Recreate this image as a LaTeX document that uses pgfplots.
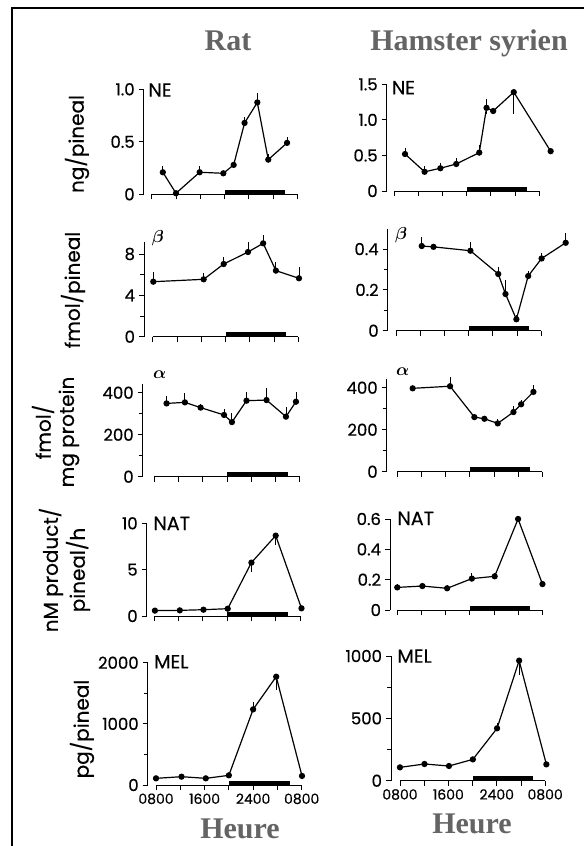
\documentclass[border=0pt]{standalone}
\usepackage{pgfplots}
\pgfplotsset{compat=1.18}
\usepackage{amsmath}
\usepackage{fontspec}
\setmainfont{Liberation Serif}
\newfontfamily\pop{Poppins}[FakeBold=0.4]
\definecolor{titlegray}{RGB}{100,100,100}
\newcommand\tickf{\pop\fontsize{16.5}{16.5}\selectfont}
\newcommand\xtickf{\pop\fontsize{14}{14}\selectfont}
\newcommand\labf{\pop\fontsize{19}{19}\selectfont}
\newcommand\ylf{\pop\fontsize{20}{20}\selectfont}
\newcommand\titf{\bfseries\fontsize{30}{30}\selectfont}
\pgfplotsset{
  panel/.style={
    anchor=south west,
    axis x line*=bottom, axis y line*=left,
    x axis line style={draw=none},
    y axis line style={line width=0.9pt},
    xmax=24, ymin=0,
    xtick={0,4,8,12,16,20,24}, xticklabels={},
    tick align=outside,
    major tick length=5pt, minor tick length=4pt,
    every tick/.style={black, line width=0.9pt},
    yticklabel style={font=\tickf, xshift=-0.5pt},
    xticklabel style={font=\xtickf},
    scaled y ticks=false,
    clip=false,
    cycle list={{black, mark=*}},
    every axis plot post/.append style={black, line width=1.2pt, mark=*, mark size=2.5pt, mark options={solid, fill=black}},
    error bars/y dir=both, error bars/y explicit, error bars/error mark=none,
    error bars/error bar style={black, line width=0.9pt},
  },
  ratcol/.style={panel, x=6.07pt},
  hamcol/.style={panel, x=6.05pt},
}
\newcommand\baseaxis{\draw[line width=0.9pt] (axis cs:0,0) -- (axis cs:24,0);
  \fill (axis cs:12,0) rectangle ([yshift=4.5pt]axis cs:22,0);}
\begin{document}
\begin{tikzpicture}
\path[use as bounding box] (0,0) rectangle (584pt,-846pt);
\draw[line width=2pt] (12pt,-846pt) -- (12pt,-8pt) -- (584pt,-8pt);
% titles
\node[font=\titf, text=titlegray, anchor=base] at (228pt,-50pt) {Rat};
\node[font=\titf, text=titlegray, anchor=base] at (469pt,-50pt) {Hamster syrien};
\node[font=\titf, text=titlegray, anchor=base] at (240pt,-838pt) {Heure};
\node[font=\titf, text=titlegray, anchor=base] at (472pt,-833pt) {Heure};
% y labels
\node[font=\ylf, rotate=90] at (77pt,-144pt) {ng/pineal};
\node[font=\ylf, rotate=90] at (73pt,-290pt) {fmol/pineal};
\node[font=\ylf, rotate=90] at (43pt,-432pt) {fmol/};
\node[font=\ylf, rotate=90] at (69pt,-432pt) {mg protein};
\node[font=\ylf, rotate=90] at (51pt,-570pt) {nM product/};
\node[font=\ylf, rotate=90] at (78pt,-570pt) {pineal/h};
\node[font=\ylf, rotate=90] at (82pt,-729pt) {pg/pineal};
% panel labels
\node[font=\labf, anchor=base west, inner sep=0pt] at (148.3pt,-96.7pt) {NE};
\node[font=\labf, anchor=base west, inner sep=0pt] at (391.7pt,-94.3pt) {NE};
\node[font=\fontsize{18}{18}\selectfont, anchor=base west, inner sep=0pt] at (151.7pt,-242pt) {$\boldsymbol{\beta}$};
\node[font=\fontsize{18}{18}\selectfont, anchor=base west, inner sep=0pt] at (395pt,-239pt) {$\boldsymbol{\beta}$};
\node[font=\fontsize{17}{17}\selectfont, anchor=base west, inner sep=0pt] at (153pt,-378.3pt) {$\boldsymbol{\alpha}$};
\node[font=\fontsize{17}{17}\selectfont, anchor=base west, inner sep=0pt] at (396pt,-375pt) {$\boldsymbol{\alpha}$};
\node[font=\labf, anchor=base west, inner sep=0pt] at (153.3pt,-530pt) {NAT};
\node[font=\labf, anchor=base west, inner sep=0pt] at (397.3pt,-525pt) {NAT};
\node[font=\labf, anchor=base west, inner sep=0pt] at (154pt,-668.3pt) {MEL};
\node[font=\labf, anchor=base west, inner sep=0pt] at (397.3pt,-662.7pt) {MEL};

% ---------- Rat NE
\begin{axis}[ratcol, at={(143.7pt,-194.3pt)}, y=105pt, xmin=-1.32, ymax=1.0,
  ytick={0,0.5,1}, yticklabels={0,0.5,1.0}]
\baseaxis
\addplot coordinates {(1.83,0.21) += (0,0.06) -= (0,0) (4.0,0.01) += (0,0) -= (0,0)
 (7.9,0.21) += (0,0.06) -= (0,0) (11.8,0.20) += (0,0) -= (0,0) (13.5,0.28) += (0,0.03) -= (0,0)
 (15.3,0.68) += (0,0.06) -= (0,0) (17.4,0.875) += (0,0.09) -= (0,0) (19.2,0.33) += (0,0.05) -= (0,0)
 (22.3,0.49) += (0,0.06) -= (0,0)};
\end{axis}
% ---------- Hamster NE
\begin{axis}[hamcol, at={(386.7pt,-191pt)}, y=71.1pt, xmin=-1.2, ymax=1.5,
  ytick={0,0.5,1,1.5}, yticklabels={0,0.5,1.0,1.5}]
\baseaxis
\addplot coordinates {(1.83,0.52) += (0,0.09) -= (0,0) (5.06,0.27) += (0,0.08) -= (0,0)
 (7.67,0.32) += (0,0.07) -= (0,0) (10.3,0.38) += (0,0.09) -= (0,0) (14.1,0.54) += (0,0.10) -= (0,0)
 (15.3,1.17) += (0,0.13) -= (0,0.08) (16.4,1.125) += (0,0.04) -= (0,0) (19.8,1.39) += (0,0) -= (0,0.30)
 (25.9,0.56) += (0,0) -= (0,0)};
\end{axis}
% ---------- Rat beta
\begin{axis}[ratcol, at={(144pt,-336.7pt)}, y=10.34pt, xmin=-1.43, ymax=9.2,
  ytick={0,4,8}, yticklabels={0,4,8}, minor ytick={2,6}]
\baseaxis
\addplot coordinates {(0.1,5.32) += (0,0.9) -= (0,0) (8.4,5.55) += (0,0.6) -= (0,0)
 (11.7,7.03) += (0,0.7) -= (0,0) (15.7,8.19) += (0,1.0) -= (0,0) (18.2,9.03) += (0,0.8) -= (0,0)
 (20.3,6.39) += (0,0.8) -= (0,0) (24.1,5.65) += (0,1.06) -= (0,0)};
\end{axis}
% ---------- Hamster beta
\begin{axis}[hamcol, at={(387.7pt,-330.7pt)}, y=204pt, xmin=-1.37, ymax=0.5,
  ytick={0,0.2,0.4}, yticklabels={0,0.2,0.4}, minor ytick={0.1,0.3}]
\baseaxis
\addplot coordinates {(4.26,0.415) += (0,0.046) -= (0,0) (6.2,0.411) += (0,0) -= (0,0)
 (12.3,0.392) += (0,0.044) -= (0,0) (16.9,0.278) += (0,0.033) -= (0,0) (18.1,0.18) += (0,0.07) -= (0,0)
 (19.9,0.056) += (0,0.02) -= (0,0) (21.85,0.268) += (0,0.026) -= (0,0) (24.07,0.354) += (0,0.028) -= (0,0)
 (28.05,0.431) += (0,0.049) -= (0,0)};
\end{axis}
% ---------- Rat alpha
\begin{axis}[ratcol, at={(142.7pt,-476.7pt)}, y=0.21pt, xmin=-1.9, ymax=440,
  ytick={0,200,400}, yticklabels={0,200,400}, minor ytick={100,300}]
\baseaxis
\addplot coordinates {(2.03,349) += (0,35) -= (0,0) (5.05,354) += (0,46) -= (0,0)
 (7.64,329) += (0,16) -= (0,0) (11.5,294) += (0,27) -= (0,0) (12.8,260) += (0,41) -= (0,0)
 (15.2,362) += (0,43) -= (0,0) (18.5,365) += (0,56) -= (0,0) (21.7,286) += (0,48) -= (0,0)
 (23.35,357) += (0,48) -= (0,0)};
\end{axis}
% ---------- Hamster alpha
\begin{axis}[hamcol, at={(386.7pt,-471.7pt)}, y=0.21pt, xmin=-1.75, ymax=440,
  ytick={0,200,400}, yticklabels={0,200,400}, minor ytick={100,300}]
\baseaxis
\addplot coordinates {(2.54,397) += (0,0) -= (0,0) (8.72,407) += (0,45) -= (0,0)
 (12.74,260) += (0,0) -= (0,0) (14.4,252) += (0,0) -= (0,0) (16.6,230) += (0,20) -= (0,0)
 (19.2,284) += (0,27) -= (0,0) (20.47,321) += (0,22) -= (0,0) (22.5,380) += (0,32) -= (0,0)};
\end{axis}
% ---------- Rat NAT
\begin{axis}[ratcol, at={(146.7pt,-616pt)}, y=9.27pt, xmin=-1.25, ymax=10,
  ytick={0,5,10}, yticklabels={0,5,10}]
\baseaxis
\addplot coordinates {(0.1,0.58) += (0,0) -= (0,0) (4.2,0.61) += (0,0) -= (0,0)
 (8.1,0.68) += (0,0) -= (0,0) (12.1,0.79) += (0,0) -= (0,0) (16.0,5.76) += (0,0) -= (0,1.0)
 (20.0,8.67) += (0,0) -= (0,1.0) (24.25,0.83) += (0,0) -= (0,0)};
\end{axis}
% ---------- Hamster NAT
\begin{axis}[hamcol, at={(390pt,-610pt)}, y=151.7pt, xmin=-1.2, ymax=0.6,
  ytick={0,0.2,0.4,0.6}, yticklabels={0,0.2,0.4,0.6}]
\baseaxis
\addplot coordinates {(0,0.149) += (0,0.02) -= (0,0) (4.15,0.158) += (0,0.02) -= (0,0)
 (8.24,0.143) += (0,0.02) -= (0,0) (12.33,0.207) += (0,0.04) -= (0,0) (16.1,0.222) += (0,0.025) -= (0,0)
 (19.97,0.60) += (0,0) -= (0,0) (24.0,0.171) += (0,0) -= (0,0)};
\end{axis}
% ---------- Rat MEL
\begin{axis}[ratcol, at={(147.7pt,-785pt)}, y=0.06115pt, xmin=-1.37, ymax=2000,
  ytick={0,1000,2000}, yticklabels={0,1000,2000}, minor ytick={500,1500},
  xticklabels={0800,,1600,,2400,,0800}]
\baseaxis
\addplot coordinates {(0,109) += (0,0) -= (0,0) (4.2,136) += (0,0) -= (0,0)
 (8.2,109) += (0,0) -= (0,0) (12.0,158) += (0,0) -= (0,0) (16.0,1237) += (0,125) -= (0,0)
 (19.8,1771) += (0,0) -= (0,215) (24.05,148) += (0,0) -= (0,0)};
\end{axis}
% ---------- Hamster MEL
\begin{axis}[hamcol, at={(391pt,-780.7pt)}, y=0.1247pt, xmin=-1.48, ymax=1000,
  ytick={0,500,1000}, yticklabels={0,500,1000}, minor ytick={250,750},
  xticklabels={0800,,1600,,2400,,0800}]
\baseaxis
\addplot coordinates {(0,107) += (0,0) -= (0,0) (4.05,134) += (0,0) -= (0,0)
 (8.1,118) += (0,0) -= (0,0) (12.05,171) += (0,0) -= (0,0) (16.05,420) += (0,45) -= (0,0)
 (19.7,963) += (0,0) -= (0,115) (24.2,131) += (0,0) -= (0,0)};
\end{axis}
\end{tikzpicture}
\end{document}
